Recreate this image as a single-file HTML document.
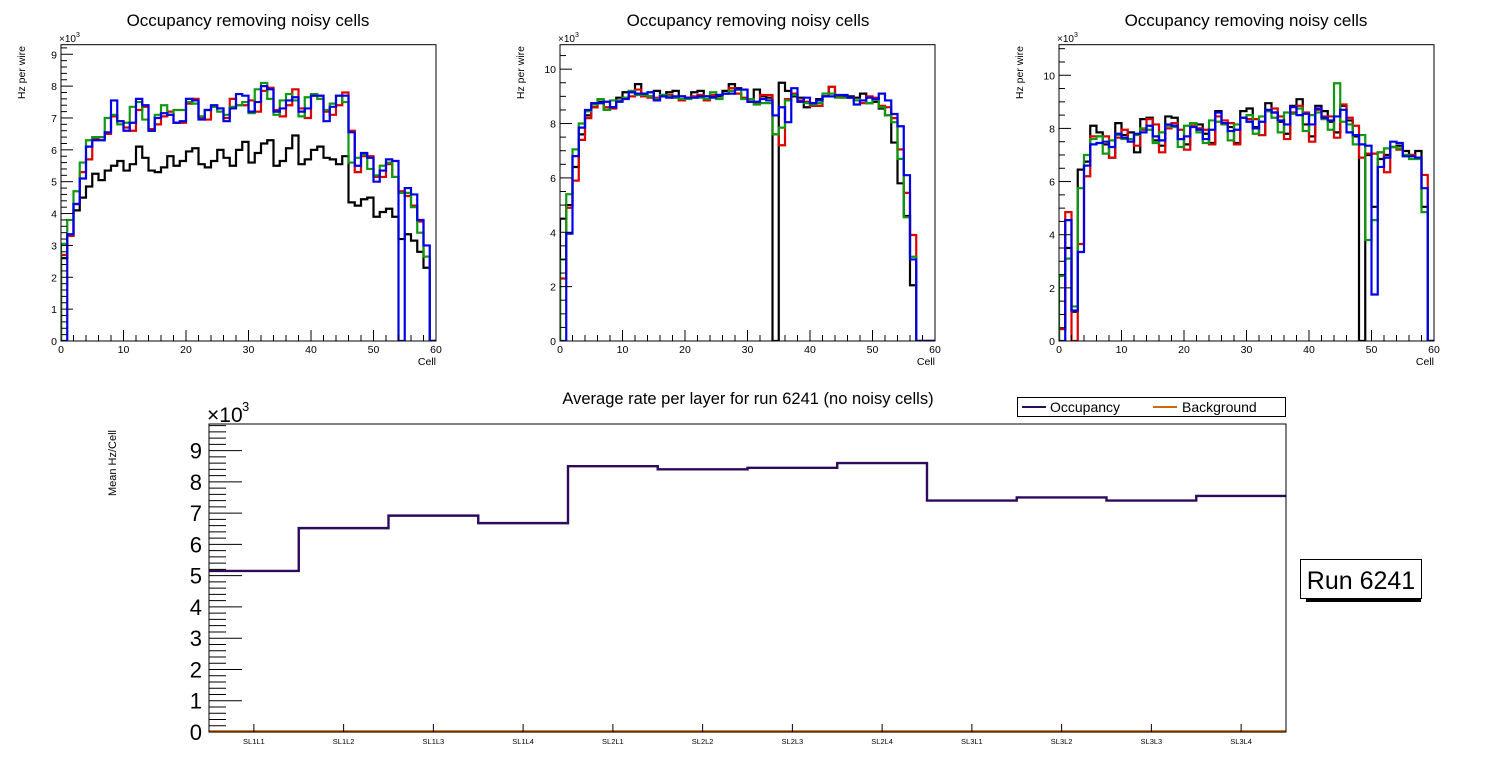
<!DOCTYPE html>
<html><head><meta charset="utf-8"><style>
html,body{margin:0;padding:0;background:#fff;}
svg{display:block;font-family:"Liberation Sans",Arial,sans-serif;}
</style></head><body>
<svg id="c" width="1496" height="772" viewBox="0 0 1496 772" xmlns="http://www.w3.org/2000/svg"></svg>
<script>
const cells = Array.from({length:60},(_,i)=>i);
const p1Black=[2.6,3.3,4.1,4.5,4.85,5.25,5.05,5.35,5.5,5.65,5.35,5.55,6.1,5.75,5.35,5.3,5.45,5.8,5.5,5.65,5.95,6.05,5.55,5.45,5.65,6.0,5.75,5.5,6.0,6.25,5.6,5.9,6.2,6.3,5.5,5.65,6.05,6.45,5.55,5.7,6.0,6.1,5.75,5.7,5.55,5.8,4.35,4.25,4.45,4.5,3.9,4.05,4.15,3.9,3.2,3.35,3.15,2.8,2.3,0];
const p1Red=[2.7,3.3,4.3,5.3,5.7,6.35,6.4,6.5,7.05,6.9,6.7,6.6,7.25,7.35,6.65,6.8,7.05,7.2,6.85,6.85,7.45,7.6,7.0,6.95,7.35,7.3,7.0,7.6,7.4,7.4,7.55,7.2,7.85,7.95,7.25,7.05,7.4,7.9,7.3,7.0,7.7,7.7,7.2,7.1,7.4,7.8,6.6,5.3,5.8,5.8,5.15,5.15,5.55,5.15,4.7,4.55,4.25,3.75,2.65,0];
const p1Green=[3.05,3.8,4.7,5.6,6.3,6.4,6.4,7.0,7.1,6.8,6.85,7.35,7.5,6.95,6.6,7.1,7.4,7.1,7.25,7.25,7.5,7.45,7.05,7.25,7.35,7.2,7.1,7.35,7.4,7.5,7.15,7.9,8.1,7.6,7.1,7.55,7.75,7.55,7.05,7.65,7.75,7.6,7.25,7.45,7.7,7.5,5.6,5.75,5.85,5.4,5.2,5.5,5.6,5.15,4.65,4.65,4.2,3.4,2.65,0];
const p1Blue=[0,3.35,4.3,5.1,6.1,6.3,6.3,6.55,7.55,6.9,6.6,6.85,7.6,7.4,6.6,7.0,7.15,7.1,6.85,6.9,7.6,7.55,6.95,7.25,7.4,7.3,6.9,7.3,7.75,7.7,7.2,7.5,8.0,7.9,7.2,7.3,7.55,7.65,7.2,7.3,7.7,7.7,6.9,7.35,7.7,7.7,6.55,5.5,5.9,5.75,5.0,5.35,5.7,5.65,0,4.8,4.6,3.8,3.0,0];
const p2Black=[4.5,5.0,6.4,7.6,8.3,8.6,8.8,8.5,8.6,8.95,9.15,9.15,9.45,9.0,9.0,9.2,9.05,9.15,9.2,9.0,8.95,9.15,9.2,9.0,9.0,9.0,9.2,9.45,9.3,9.25,8.8,9.25,9.0,8.95,0,9.5,9.2,9.0,8.95,8.6,8.7,8.9,9.0,9.35,9.0,9.0,9.0,8.95,9.1,8.75,8.8,8.55,8.3,7.3,5.8,4.6,2.05,0,0,0];
const p2Red=[2.3,4.9,5.9,7.4,8.2,8.6,8.75,8.6,8.55,8.85,8.95,9.0,9.25,9.0,8.95,8.95,9.0,9.05,8.95,8.85,8.95,9.0,9.05,8.85,9.05,9.05,9.1,9.3,9.1,8.95,8.9,8.75,9.05,9.05,7.6,7.2,8.9,9.1,8.85,8.8,8.65,8.65,9.0,9.35,9.0,8.95,8.95,8.85,8.75,9.0,8.95,8.65,8.6,8.2,7.05,5.45,3.9,0,0,0];
const p2Green=[3.0,5.4,7.05,8.0,8.45,8.7,8.9,8.5,8.85,8.85,8.95,9.2,9.05,9.05,9.0,8.9,9.05,9.0,8.95,8.9,8.9,8.95,8.95,8.9,9.15,8.9,9.1,9.2,9.25,8.9,8.9,8.7,8.75,8.75,7.6,7.85,8.85,9.05,8.8,8.75,8.7,8.75,9.1,9.1,8.95,8.95,8.95,8.85,8.85,8.75,8.9,8.6,8.3,8.05,6.7,4.55,3.1,0,0,0];
const p2Blue=[0,3.95,6.8,7.85,8.5,8.75,8.75,8.8,8.6,8.8,8.9,9.15,9.1,9.1,9.15,8.85,9.0,8.95,9.0,9.0,8.95,8.95,9.0,9.0,8.95,9.05,9.1,9.1,9.25,9.25,8.8,8.8,8.9,8.85,8.3,8.6,8.05,9.3,8.8,8.95,8.75,8.85,9.0,9.0,9.05,9.05,8.95,8.7,8.85,8.95,8.9,9.1,8.85,8.35,7.9,6.1,3.0,0,0,0];
const p3Black=[0.45,3.5,1.1,6.45,6.75,8.1,7.85,7.4,6.9,8.2,7.75,7.85,7.1,8.35,8.4,7.55,7.35,8.45,8.4,7.6,7.4,8.2,8.15,7.8,7.45,8.65,8.2,8.05,7.45,8.65,8.75,8.05,7.75,8.95,8.6,8.25,7.8,8.85,9.1,8.15,7.7,8.85,8.65,8.25,7.85,8.85,8.3,7.7,0,7.0,5.05,6.85,7.0,7.3,7.35,7.15,7.0,7.15,5.05,0];
const p3Red=[0.45,4.85,0,3.65,6.2,7.7,7.7,7.7,6.9,7.65,7.95,7.6,7.35,7.95,8.35,8.15,7.1,8.0,8.2,7.95,7.2,8.1,8.0,7.95,7.4,8.45,8.3,8.2,7.4,8.4,8.35,8.35,7.75,8.65,8.75,8.45,7.6,8.6,8.85,8.6,7.5,8.7,8.45,8.45,7.65,8.9,8.4,8.1,6.9,7.05,7.05,7.1,6.35,7.3,7.2,7.0,7.0,6.9,6.25,0];
const p3Green=[2.45,3.1,1.3,5.75,7.0,7.6,7.7,7.05,7.55,7.75,7.6,7.6,7.75,8.0,7.95,7.45,7.85,8.1,8.05,7.3,8.1,8.2,7.85,7.45,8.3,8.25,8.15,7.55,8.15,8.4,8.5,7.8,8.45,8.65,8.4,7.85,8.6,8.55,8.75,7.9,8.5,8.6,8.35,7.95,9.7,8.25,8.15,7.4,7.75,3.8,4.55,7.1,7.25,7.3,7.25,7.0,6.85,6.85,4.85,0];
const p3Blue=[0,4.55,1.15,3.35,6.6,7.4,7.45,7.5,7.3,7.8,7.65,7.5,7.8,7.85,8.1,7.7,7.55,8.15,8.1,7.6,7.7,8.05,7.95,7.6,7.95,8.6,8.2,7.9,7.95,8.4,8.25,8.0,8.25,8.7,8.6,8.3,8.15,8.8,8.5,8.55,8.15,8.75,8.4,8.3,8.45,8.7,7.85,7.75,7.4,7.35,1.75,6.55,6.9,7.5,7.45,6.95,6.95,6.9,5.75,0];
const layers=["SL1L1","SL1L2","SL1L3","SL1L4","SL2L1","SL2L2","SL2L3","SL2L4","SL3L1","SL3L2","SL3L3","SL3L4"];
const occupancy=[5.15,6.52,6.92,6.68,8.5,8.4,8.45,8.6,7.4,7.5,7.4,7.55];
const background=[0.02,0.02,0.02,0.02,0.02,0.02,0.02,0.02,0.02,0.02,0.02,0.02];
const xTickLabels=[0,10,20,30,40,50,60];

const NS="http://www.w3.org/2000/svg";
const svg=document.getElementById('c');
function mk(tag,attrs,parent){const e=document.createElementNS(NS,tag);for(const k in attrs)e.setAttribute(k,attrs[k]);(parent||svg).appendChild(e);return e;}
function txt(s,attrs,parent){const t=mk('text',attrs,parent);t.textContent=s;return t;}

const panels=[
 {x0:61,x1:436,ymax:9.3,major:1,minor:5,series:[p1Black,p1Red,p1Green,p1Blue],cx:248},
 {x0:560,x1:935,ymax:10.9,major:2,minor:4,series:[p2Black,p2Red,p2Green,p2Blue],cx:748},
 {x0:1059,x1:1434,ymax:11.15,major:2,minor:4,series:[p3Black,p3Red,p3Green,p3Blue],cx:1246}
];
const colors=["#000000","#dd0000","#109910","#0000e6"];
const serNames=["black","red","green","blue"];
const yT=44.7,yB=341;
panels.forEach((p,pi)=>{
 const g=mk('g',{});
 
 
 const X=v=>p.x0+(p.x1-p.x0)*v/60;
 const Y=v=>yB-(yB-yT)*v/p.ymax;
 const t=txt('Occupancy removing noisy cells',{x:p.cx,y:26,'font-size':17,'text-anchor':'middle'},g);
 
 
 const cp=mk('clipPath',{id:'cp'+pi},g);
 mk('rect',{x:p.x0,y:yT,width:p.x1-p.x0,height:yB-yT},cp);
 p.series.forEach((arr,si)=>{
  let d='M'+X(0)+','+Y(0);
  cells.forEach(i=>{d+=' L'+X(i)+','+Y(arr[i])+' L'+X(i+1)+','+Y(arr[i]);});
  d+=' L'+X(60)+','+Y(0);
  const path=mk('path',{d:d,fill:'none',stroke:colors[si],'stroke-width':2.2,'clip-path':'url(#cp'+pi+')'},g);
  
  
 });
 const fr=mk('rect',{x:p.x0,y:yT,width:p.x1-p.x0,height:yB-yT,fill:'none',stroke:'#000','stroke-width':1},g);
 
 
 const step=p.major/p.minor;
 for(let k=0;k*step<=p.ymax+1e-6;k++){
  const v=k*step,y=Y(v),isMaj=k%p.minor===0;
  mk('line',{x1:p.x0,x2:p.x0+(isMaj?12:6),y1:y,y2:y,stroke:'#000','stroke-width':1},g);
  if(isMaj){const l=txt(String(Math.round(v)),{x:p.x0-4,y:y+4,'font-size':10.5,'text-anchor':'end'},g);
   
   }
 }
 for(let v=0;v<=60;v+=2){
  const isMaj=v%10===0;
  mk('line',{x1:X(v),x2:X(v),y1:yB,y2:yB-(isMaj?11:6),stroke:'#000','stroke-width':1},g);
 }
 xTickLabels.forEach(v=>{const l=txt(String(v),{x:X(v),y:yB+12,'font-size':10.5,'text-anchor':'middle'},g);
  
  });
 const xt=txt('Cell',{x:p.x1,y:365,'font-size':10.5,'text-anchor':'end'},g);
 
 
 const yt=txt('Hz per wire',{x:0,y:0,'font-size':10.5,'text-anchor':'end',transform:'translate('+(p.x0-36)+',46) rotate(-90)'},g);
 
 
 const ex=txt('×10',{x:p.x0-2,y:42,'font-size':10},g);
 
 
 txt('3',{x:p.x0+15,y:37,'font-size':7},g);
});

(function(){
 const g=mk('g',{});
 
 
 const x0=209,x1=1286,t=424,b=732,ymax=9.85;
 const X=i=>x0+(x1-x0)*i/12;
 const Y=v=>b-(b-t)*v/ymax;
 const tt=txt('Average rate per layer for run 6241 (no noisy cells)',{x:748,y:404,'font-size':16.5,'text-anchor':'middle'},g);
 
 
 [[occupancy,'#2e0a5e','occupancy-line'],[background,'#cc6a10','background-line']].forEach(([arr,c,n])=>{
  let d='M'+X(0)+','+Y(arr[0]);
  layers.forEach((_,i)=>{d+=' L'+X(i)+','+Y(arr[i])+' L'+X(i+1)+','+Y(arr[i]);});
  const pth=mk('path',{d:d,fill:'none',stroke:c,'stroke-width':2.4},g);
  
  
 });
 const fr=mk('rect',{x:x0,y:t,width:x1-x0,height:b-t,fill:'none',stroke:'#000','stroke-width':1},g);
 
 
 for(let k=0;k*0.2<=ymax+1e-6;k++){
  const v=k*0.2,y=Y(v),isMaj=k%5===0;
  mk('line',{x1:x0,x2:x0+(isMaj?33:17),y1:y,y2:y,stroke:'#000','stroke-width':1},g);
  if(isMaj){const l=txt(String(Math.round(v)),{x:202,y:y+8,'font-size':22,'text-anchor':'end'},g);
   
   }
 }
 layers.forEach((s,i)=>{
  const cx=X(i+0.5);
  mk('line',{x1:cx,x2:cx,y1:b,y2:b-8,stroke:'#000','stroke-width':1},g);
  const l=txt(s,{x:cx,y:b+12,'font-size':7.5,'text-anchor':'middle'},g);
  
  
 });
 const ex=txt('×10',{x:207,y:422,'font-size':21},g);
 
 
 txt('3',{x:242,y:411,'font-size':13},g);
 const yt=txt('Mean Hz/Cell',{x:0,y:0,'font-size':11,'text-anchor':'middle',transform:'translate(116,463) rotate(-90)'},g);
 
 
 const lg=mk('g',{});
 
 
 mk('rect',{x:1017.5,y:397.5,width:268,height:19,fill:'#fff',stroke:'#000','stroke-width':1},lg);
 mk('line',{x1:1022,x2:1046,y1:407,y2:407,stroke:'#2e0a5e','stroke-width':2},lg);
 const l1=txt('Occupancy',{x:1050,y:412,'font-size':14},lg);
 
 
 mk('line',{x1:1153,x2:1177,y1:407,y2:407,stroke:'#cc6a10','stroke-width':2},lg);
 const l2=txt('Background',{x:1182,y:412,'font-size':14},lg);
 
 
 const rb=mk('g',{});
 
 
 mk('rect',{x:1306,y:598,width:115,height:4,fill:'#000'},rb);
 mk('rect',{x:1300.5,y:559.5,width:121,height:39,fill:'#fff',stroke:'#000','stroke-width':1},rb);
 txt('Run 6241',{x:1361,y:589,'font-size':25,'text-anchor':'middle'},rb);
})();
</script>
</body></html>
